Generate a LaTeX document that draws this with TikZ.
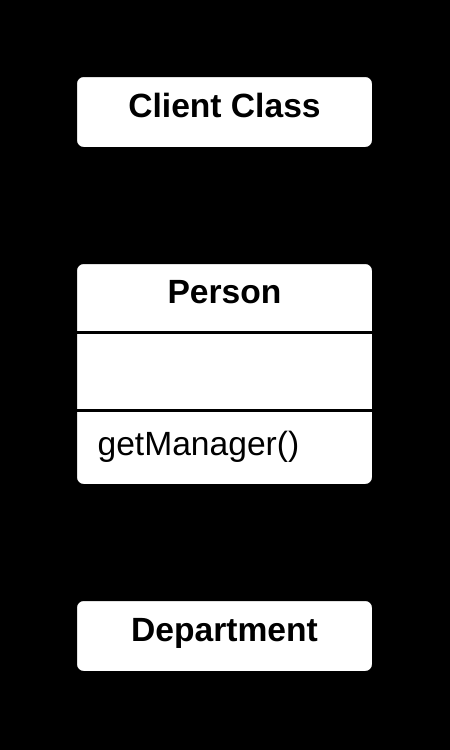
\documentclass[tikz,border=0pt]{standalone}
\usepackage{fontspec}
\setmainfont{Liberation Sans}
\usetikzlibrary{
	arrows.meta,
	positioning,
	backgrounds % 背景层
}
\tikzset{
  % box
	cstbox/.style     ={fill=white,draw=black,line width=1.5pt,rounded corners=4pt,minimum width=149pt,inner sep=0pt},
	csttitle/.style   ={font=\fontsize{16.8}{20}\selectfont\bfseries,text height=10pt,text depth=4.8pt},
	csttext/.style    ={font=\fontsize{16.8}{20}\selectfont,inner sep=0pt},
	cstdiv/.style     ={line width=1.5pt},
  % arrow
	cstdep/.style     ={-Straight Barb, dashed, line width=1pt, black}
}
\begin{document}
\begin{tikzpicture}[node distance=55.5pt]
			\node[cstbox,csttitle,minimum height=36.5pt] (client) at (112.25pt,-56pt) {Client Class};
			\node[cstbox,minimum height=111.5pt,below=of client] (person) {};
			\node[cstbox,csttitle,minimum height=36.5pt,below=of person] (dept) {Department};
			% person compartments
			\draw[cstdiv] ([yshift=-35.75pt]person.north west)--([yshift=-35.75pt]person.north east);
			\draw[cstdiv] ([yshift=-74.5pt]person.north west)--([yshift=-74.5pt]person.north east);
			\node[csttext,font=\fontsize{16.8}{20}\selectfont\bfseries,anchor=base] (ptitle) at ([yshift=-21.15pt]person.north) {Person};
			\node[csttext,anchor=base west] (pget) at ([xshift=11.6pt,yshift=-97pt]person.north west) {getManager()};
			% dependencies
			\draw[cstdep] ([xshift=-4.5pt]client.south)--([xshift=-4.5pt]person.north);
			\draw[cstdep] ([xshift=-4.5pt]person.south)--([xshift=-4.5pt]dept.north);
			\begin{scope}[on background layer]
				\fill[black] (0,0) rectangle (225pt,-375pt);
				\draw[cstdep] ([xshift=4.5pt]client.south)--([xshift=4.5pt]dept.north);
			\end{scope}
		\end{tikzpicture}
\end{document}
